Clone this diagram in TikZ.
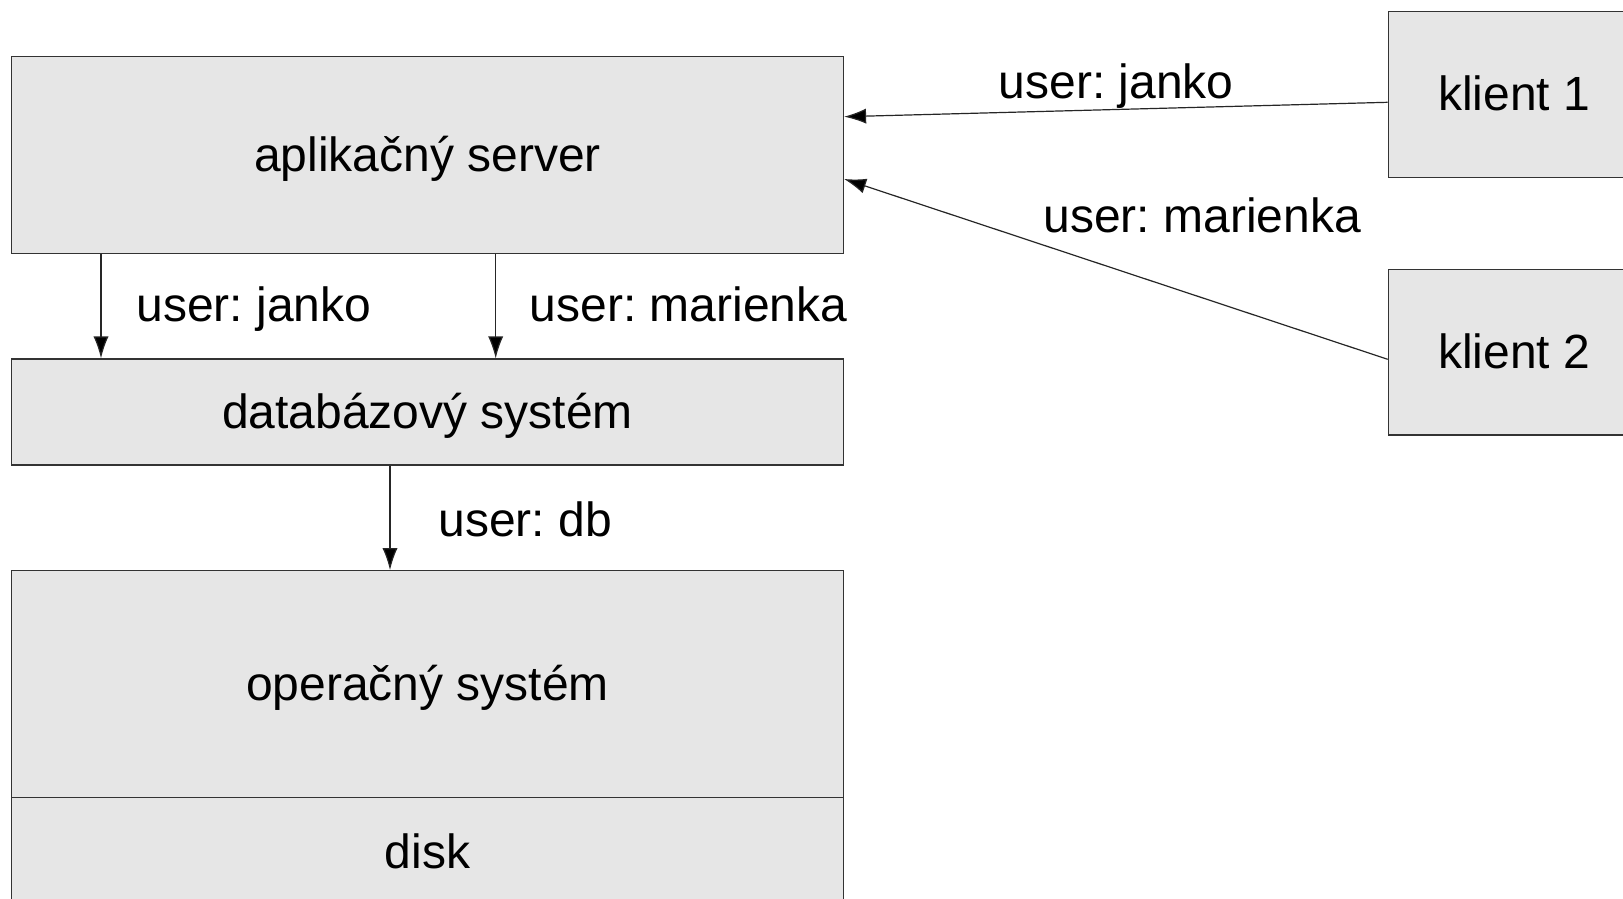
\documentclass[tikz,border=0pt]{standalone}
\usepackage{fontspec}
\setmainfont{Liberation Sans}
\usetikzlibrary{calc,arrows.meta}
\definecolor{boxfill}{HTML}{E6E6E6}
\definecolor{boxline}{HTML}{333333}
\frenchspacing
\begin{document}
\begin{tikzpicture}[x=0.5pt,y=-0.5pt,
  every node/.style={font=\fontsize{24pt}{28pt}\selectfont\frenchspacing},
  layerbox/.style={draw=boxline,fill=boxfill,line width=0.6pt,inner sep=0pt,
    text height=17pt,text depth=1pt,minimum width=416pt},
  clientbox/.style={draw=boxline,fill=boxfill,line width=0.6pt,inner sep=0pt,
    text height=17pt,text depth=1pt,minimum width=126pt,minimum height=82.8pt},
  lbl/.style={anchor=base west,inner sep=0pt},
  conn/.style={draw=black!85,line width=0.6pt,-{Latex[length=11pt,width=7.6pt,fill=black]}}]
\useasboundingbox (0,0) rectangle (1623,899);
\fill[white] (0,0) rectangle (1623,899);
% layers
\node[layerbox,minimum height=98.3pt] (app) at (427.5,155) {aplikačný server};
\node[layerbox,minimum height=53pt] (db) at (427.5,412) {databázový systém};
\node[layerbox,minimum height=113.3pt] (os) at (427.5,684) {operačný systém};
\node[layerbox,minimum height=54.7pt] (disk) at (427.5,852) {disk};
% clients
\node[clientbox] (k1) at (1514.3,94.5) {klient 1};
\node[clientbox] (k2) at (1514.3,352.2) {klient 2};
% labels
\node[lbl] (lj1) at (136,321.7) {user: janko};
\node[lbl] (lm1) at (529.5,321.7) {user: marienka};
\node[lbl] (ldb) at (438,536) {user: db};
\node[lbl] (lj2) at (998.5,98.3) {user: janko};
\node[lbl] (lm2) at (1043,232.7) {user: marienka};
% connectors
\draw[conn] ($(app.south)+(-326.5,0)$) -- ($(db.north)+(-326.5,0)$);
\draw[conn] ($(app.south)+(68.2,0)$) -- ($(db.north)+(68.2,0)$);
\draw[conn] ($(db.south)+(-37.5,0)$) -- ($(os.north)+(-37.5,0)$);
\draw[conn] ($(k1.west)+(0,7.8)$) -- ($(app.east)+(0,-38.3)$);
\draw[conn] ($(k2.west)+(0,7.1)$) -- ($(app.east)+(0,24)$);
\end{tikzpicture}
\end{document}
